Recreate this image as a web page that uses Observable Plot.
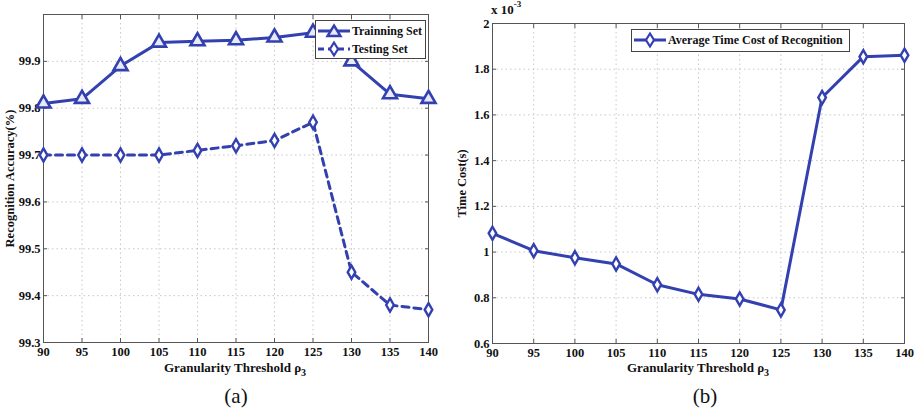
<!DOCTYPE html>
<html>
<head>
<meta charset="utf-8">
<script src="https://cdn.jsdelivr.net/npm/d3@7"></script>
<script src="https://cdn.jsdelivr.net/npm/@observablehq/plot@0.6"></script>
<style>
  html, body { margin: 0; padding: 0; background: #fff; }
  #wrap { position: relative; width: 917px; height: 412px; overflow: hidden; font-family: "Liberation Serif", "Times New Roman", serif; }
  .panel { position: absolute; top: 0; }
  .ov { position: absolute; font-weight: bold; color: #111; white-space: nowrap; }
  .cap { position: absolute; font-size: 21px; color: #111; transform: translateX(-50%); }
  .xl { position: absolute; font-weight: bold; font-size: 13px; color: #111; transform: translateX(-50%); white-space: nowrap; }
  .legend { position: absolute; background: #fff; border: 1px solid #444; font-weight: bold; font-size: 12px; color: #111; white-space: nowrap; padding-right: 3px; }
  .legend .row { display: flex; align-items: center; height: 18px; }
  .legend svg { display: block; }
</style>
</head>
<body>
<div id="wrap"></div>
<script>
// ---------- data ----------
const thresholds = [90, 95, 100, 105, 110, 115, 120, 125, 130, 135, 140];
const trainingAcc = [99.81, 99.82, 99.89, 99.94, 99.943, 99.945, 99.951, 99.961, 99.90, 99.83, 99.82];
const testingAcc  = [99.70, 99.70, 99.70, 99.70, 99.71, 99.72, 99.731, 99.77, 99.45, 99.38, 99.37];
const timeCost    = [1.082, 1.006, 0.975, 0.948, 0.857, 0.815, 0.795, 0.747, 1.676, 1.855, 1.861]; // x 10^-3 s
const xTicks = [90, 95, 100, 105, 110, 115, 120, 125, 130, 135, 140];
const yTicksA = [99.3, 99.4, 99.5, 99.6, 99.7, 99.8, 99.9];
const yTicksB = [0.6, 0.8, 1, 1.2, 1.4, 1.6, 1.8, 2];
const seriesNames = ["Trainning Set", "Testing Set"];
const seriesNameB = "Average Time Cost of Recognition";

const BLUE = "#3340b0";
const FONT = "Liberation Serif, Times New Roman, serif";

const trainRows = thresholds.map((t, i) => ({t, v: trainingAcc[i]}));
const testRows = thresholds.map((t, i) => ({t, v: testingAcc[i]}));
const timeRows = thresholds.map((t, i) => ({t, v: timeCost[i]}));

function commonAxes(yTicks, yLabel, yFmt, labelOffset) {
  const blank = () => "";
  return [
    Plot.gridX(xTicks.slice(1, -1), {stroke: "#c8c8c8", strokeOpacity: 1, strokeDasharray: "1.5,3"}),
    Plot.gridY(yTicks, {stroke: "#c8c8c8", strokeOpacity: 1, strokeDasharray: "1.5,3"}),
    Plot.frame({stroke: "#555", strokeWidth: 1}),
    // inward ticks (all four sides)
    Plot.axisX(xTicks, {anchor: "bottom", tickSize: -4, tickFormat: blank, label: null, stroke: "#555"}),
    Plot.axisX(xTicks, {anchor: "top", tickSize: -4, tickFormat: blank, label: null, stroke: "#555"}),
    Plot.axisY(yTicks, {anchor: "left", tickSize: -4, tickFormat: blank, label: null, stroke: "#555"}),
    Plot.axisY(yTicks, {anchor: "right", tickSize: -4, tickFormat: blank, label: null, stroke: "#555"}),
    // labels
    Plot.axisX(xTicks, {anchor: "bottom", tickSize: 0, tickPadding: 5, label: null,
      fontWeight: "bold", fontSize: 12.5, fill: "#111"}),
    Plot.axisY(yTicks, {anchor: "left", tickSize: 0, tickPadding: 3, tickFormat: yFmt, label: null,
      fontWeight: "bold", fontSize: 12.5, fill: "#111"}),
    Plot.axisY(yTicks, {anchor: "left", tickSize: 0, tickFormat: blank,
      label: yLabel, labelAnchor: "center", labelArrow: "none", labelOffset,
      fontWeight: "bold", fontSize: 12.5, fill: "#111"})
  ];
}

const plotA = Plot.plot({
  width: 455, height: 385,
  marginLeft: 43, marginRight: 27, marginTop: 14, marginBottom: 43,
  style: {fontFamily: FONT, fontSize: "13px", background: "transparent"},
  x: {domain: [90, 140]},
  y: {domain: [99.3, 100]},
  marks: [
    ...commonAxes(yTicksA, "Recognition Accuracy(%)", d3.format(".1f"), 38),
    Plot.line(trainRows, {x: "t", y: "v", stroke: BLUE, strokeWidth: 3}),
    Plot.line(testRows, {x: "t", y: "v", stroke: BLUE, strokeWidth: 3, strokeDasharray: "7,5"}),
    Plot.dot(trainRows, {x: "t", y: "v", symbol: "triangle", r: 5.2, stroke: BLUE, strokeWidth: 2.6, fill: "#e8eaf8"}),
    Plot.dot(testRows, {x: "t", y: "v", symbol: "diamond", r: 4, stroke: BLUE, strokeWidth: 2.4, fill: "#fff"})
  ]
});

const plotB = Plot.plot({
  width: 467, height: 385,
  marginLeft: 42, marginRight: 13, marginTop: 23, marginBottom: 42,
  style: {fontFamily: FONT, fontSize: "13px", background: "transparent"},
  x: {domain: [90, 140]},
  y: {domain: [0.6, 2]},
  marks: [
    ...commonAxes(yTicksB, "Time Cost(s)", d => d3.format("~g")(d), 35),
    Plot.line(timeRows, {x: "t", y: "v", stroke: BLUE, strokeWidth: 3}),
    Plot.dot(timeRows, {x: "t", y: "v", symbol: "diamond", r: 4, stroke: BLUE, strokeWidth: 2.4, fill: "#fff"})
  ]
});

const wrap = document.getElementById("wrap");
const pa = document.createElement("div"); pa.className = "panel"; pa.style.left = "0px"; pa.appendChild(plotA); wrap.appendChild(pa);
const pb = document.createElement("div"); pb.className = "panel"; pb.style.left = "450px"; pb.appendChild(plotB); wrap.appendChild(pb);

function addHTML(html) { const d = document.createElement("div"); d.innerHTML = html; while (d.firstChild) wrap.appendChild(d.firstChild); }

function lineSample(dashed, symbol) {
  const sym = symbol === "triangle"
    ? `<path d="M18,3.5 L24.5,14 L11.5,14 Z" fill="#e8eaf8" stroke="${BLUE}" stroke-width="2.4"/>`
    : `<path d="M18,2.5 L22,9 L18,15.5 L14,9 Z" fill="#fff" stroke="${BLUE}" stroke-width="2.2"/>`;
  return `<svg width="36" height="18"><line x1="2" y1="9" x2="34" y2="9" stroke="${BLUE}" stroke-width="3" ${dashed ? 'stroke-dasharray="6,4"' : ''}/>${sym}</svg>`;
}

addHTML(`
<div class="legend" style="right:${917 - 426}px;top:20px;height:37px;">
  <div class="row" style="margin-top:1px">${lineSample(false, "triangle")}<span>${seriesNames[0]}</span></div>
  <div class="row">${lineSample(true, "diamond")}<span>${seriesNames[1]}</span></div>
</div>
<div class="legend" style="left:631px;top:29px;height:21px;padding-right:6px;">
  <div class="row" style="margin-top:1px">${lineSample(false, "diamond")}<span>${seriesNameB}</span></div>
</div>
<div class="ov" style="left:491px;top:1px;font-size:13px;">x 10<sup style="font-size:9px;position:relative;top:-2px;">-3</sup></div>
<div class="xl" style="left:235px;top:360px;">Granularity Threshold ρ<sub style="font-size:10px">3</sub></div>
<div class="xl" style="left:698px;top:360px;">Granularity Threshold ρ<sub style="font-size:10px">3</sub></div>
<div class="cap" style="left:236px;top:384px;">(a)</div>
<div class="cap" style="left:705px;top:384px;">(b)</div>
`);
</script>
</body>
</html>
